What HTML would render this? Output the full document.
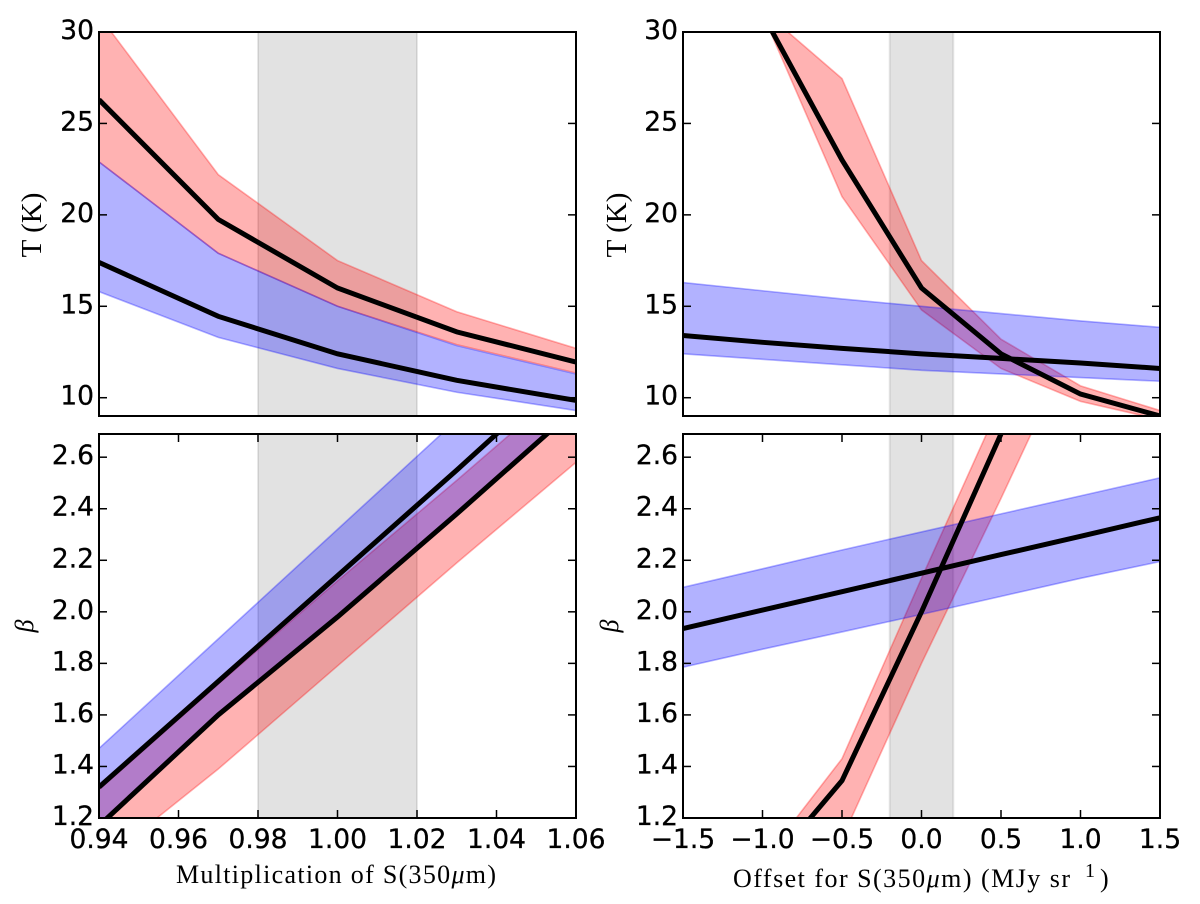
<!DOCTYPE html>
<html lang="en">
<head>
<meta charset="utf-8">
<title>Dust temperature and beta sensitivity to S(350 micron)</title>
<style>
html,body{margin:0;padding:0;background:#fff;}
svg{display:block;}
.tick-label{font-family:"DejaVu Sans",sans-serif;font-size:26.5px;fill:#000;stroke:#000;stroke-width:0.3px;}
.axis-label{font-family:"Liberation Serif",serif;font-size:26px;fill:#000;}
</style>
</head>
<body>
<svg id="fig" xmlns="http://www.w3.org/2000/svg" width="1200" height="904" viewBox="0 0 1200 904">
  <rect x="0" y="0" width="1200" height="904" fill="#fff"/>
  <text class="axis-label" style="font-size:29px" transform="translate(41,225) rotate(-90)" text-anchor="middle">T (K)</text>
  <text class="axis-label" style="font-size:29px" transform="translate(626,225) rotate(-90)" text-anchor="middle">T (K)</text>
  <text class="axis-label" transform="translate(33,626) rotate(-90)" text-anchor="middle" font-style="italic">β</text>
  <text class="axis-label" transform="translate(618,626) rotate(-90)" text-anchor="middle" font-style="italic">β</text>
  <text class="axis-label" x="176" y="883" textLength="320">Multiplication of S(350<tspan font-style="italic">μ</tspan>m)</text>
  <text class="axis-label" x="733" y="887" textLength="337">Offset for S(350<tspan font-style="italic">μ</tspan>m) (MJy sr</text>
  <text class="axis-label" x="1085" y="877" style="font-size:20px">1</text>
  <text class="axis-label" x="1100" y="887">)</text>
</svg>
<script>
// Shared x sample points
const multX = [0.94, 0.97, 1.00, 1.03, 1.06];
const offX = [-1.5, -1.0, -0.5, 0.0, 0.5, 1.0, 1.5];

// Axis tick labels
const multTicks = ["0.94", "0.96", "0.98", "1.00", "1.02", "1.04", "1.06"];
const offTicks = ["-1.5", "-1.0", "-0.5", "0.0", "0.5", "1.0", "1.5"];
const tempTicks = ["10", "15", "20", "25", "30"];
const betaTicks = ["1.2", "1.4", "1.6", "1.8", "2.0", "2.2", "2.4", "2.6"];

// Axis limits
const multLim = [0.94, 1.06];
const offLim = [-1.5, 1.5];
const tempLim = [9, 30];
const betaLim = [1.2, 2.69];

// Calibration spans
const multSpan = [0.98, 1.02];
const offSpan = [-0.2, 0.2];

// Panel: T vs multiplication
const tmRedUpper = [30.9, 22.2, 17.5, 14.7, 12.7];
const tmRedCenter = [26.3, 19.75, 16.0, 13.6, 11.95];
const tmRedLower = [22.9, 17.9, 15.0, 12.9, 11.35];
const tmBlueUpper = [22.9, 17.9, 15.0, 12.85, 11.3];
const tmBlueCenter = [17.4, 14.45, 12.4, 10.95, 9.85];
const tmBlueLower = [15.8, 13.3, 11.6, 10.3, 9.3];

// Panel: T vs offset
const toRedUpper = [31.2, 31.2, 27.45, 17.5, 13.2, 10.65, 9.3];
const toRedCenter = [31.0, 31.0, 23.0, 16.0, 12.4, 10.2, 9.0];
const toRedLower = [31.0, 31.0, 21.0, 14.8, 11.6, 9.8, 8.8];
const toBlueUpper = [16.3, 15.85, 15.4, 15.0, 14.6, 14.2, 13.85];
const toBlueCenter = [13.4, 13.03, 12.7, 12.4, 12.15, 11.9, 11.6];
const toBlueLower = [12.4, 12.1, 11.8, 11.5, 11.3, 11.1, 10.9];

// Panel: beta vs multiplication
const bmRedUpper = [1.31, 1.72, 2.12, 2.51, 2.91];
const bmRedCenter = [1.17, 1.60, 1.98, 2.38, 2.79];
const bmRedLower = [1.02, 1.39, 1.79, 2.19, 2.58];
const bmBlueUpper = [1.47, 1.895, 2.32, 2.745, 3.17];
const bmBlueCenter = [1.32, 1.73, 2.14, 2.55, 2.97];
const bmBlueLower = [1.17, 1.60, 1.98, 2.38, 2.79];

// Panel: beta vs offset
const boRedUpper = [1.03, 1.03, 1.43, 2.13, 2.815, 3.5, 4.1];
const boRedCenter = [0.98, 0.98, 1.345, 2.0, 2.69, 3.4, 4.0];
const boRedLower = [0.8, 0.8, 1.12, 1.80, 2.44, 3.1, 3.7];
const boBlueUpper = [2.095, 2.167, 2.24, 2.31, 2.38, 2.45, 2.52];
const boBlueCenter = [1.935, 2.007, 2.078, 2.15, 2.222, 2.293, 2.365];
const boBlueLower = [1.785, 1.855, 1.922, 1.99, 2.06, 2.13, 2.195];

const svg = document.getElementById('fig');
const NS = 'http://www.w3.org/2000/svg';

function make(tag, parent, attrs) {
  const el = document.createElementNS(NS, tag);
  for (const k in attrs) el.setAttribute(k, attrs[k]);
  parent.appendChild(el);
  return el;
}

function linearScale(lim, a, b) {
  return v => a + (v - lim[0]) / (lim[1] - lim[0]) * (b - a);
}

function drawPanel(p) {
  const sx = linearScale(p.xLim, p.left, p.right);
  const sy = linearScale(p.yLim, p.bottom, p.top);

  const group = make('g', svg, {});
  
  

  const clipId = p.name + '-clip';
  const defs = make('defs', group, {});
  const clip = make('clipPath', defs, { id: clipId });
  make('rect', clip, { x: p.left, y: p.top, width: p.right - p.left, height: p.bottom - p.top });
  const plot = make('g', group, { 'clip-path': 'url(#' + clipId + ')' });

  // Grey calibration span
  const span = make('rect', plot, {
    x: sx(p.span[0]), y: p.top, width: sx(p.span[1]) - sx(p.span[0]), height: p.bottom - p.top,
    fill: '#000', 'fill-opacity': 0.115, stroke: '#000', 'stroke-opacity': 0.09, 'stroke-width': 2
  });
  
  

  // Uncertainty bands, red beneath blue
  p.series.forEach(s => {
    const pts = [];
    p.xs.forEach((x, i) => pts.push(sx(x).toFixed(2) + ',' + sy(s.upper[i]).toFixed(2)));
    for (let i = p.xs.length - 1; i >= 0; i--) pts.push(sx(p.xs[i]).toFixed(2) + ',' + sy(s.lower[i]).toFixed(2));
    const band = make('polygon', plot, {
      points: pts.join(' '), fill: s.color, 'fill-opacity': 0.3,
      stroke: s.color, 'stroke-opacity': 0.3, 'stroke-width': 1.6, 'stroke-linejoin': 'miter'
    });
    
    
  });

  // Central lines
  p.series.forEach(s => {
    const pts = p.xs.map((x, i) => sx(x).toFixed(2) + ',' + sy(s.center[i]).toFixed(2));
    const line = make('polyline', plot, {
      points: pts.join(' '), fill: 'none', stroke: '#000', 'stroke-width': 5, 'stroke-linejoin': 'miter'
    });
    
    
  });

  // Y ticks and labels
  p.yTicks.forEach(t => {
    const v = parseFloat(t), y = sy(v);
    const left = make('line', group, { x1: p.left, x2: p.left + 8, y1: y, y2: y, stroke: '#000', 'stroke-width': 1.5 });
    
    
    const right = make('line', group, { x1: p.right - 8, x2: p.right, y1: y, y2: y, stroke: '#000', 'stroke-width': 1.5 });
    
    
    const label = make('text', group, { class: 'tick-label', x: p.left - 5, y: y + 7, 'text-anchor': 'end' });
    label.textContent = t;
    
    
  });

  // X ticks and labels (bottom row only)
  p.xTicks.forEach(t => {
    const v = parseFloat(t), x = sx(v);
    if (!p.showX) return;
    const top = make('line', group, { x1: x, x2: x, y1: p.top, y2: p.top + 8, stroke: '#000', 'stroke-width': 1.5 });
    
    
    const bottom = make('line', group, { x1: x, x2: x, y1: p.bottom - 8, y2: p.bottom, stroke: '#000', 'stroke-width': 1.5 });
    
    
    const label = make('text', group, { class: 'tick-label', x: x, y: p.bottom + 30, 'text-anchor': 'middle' });
    label.textContent = t.replace('-', '\u2212');
    
    
  });

  // Frame
  const frame = make('rect', group, {
    x: p.left, y: p.top, width: p.right - p.left, height: p.bottom - p.top,
    fill: 'none', stroke: '#000', 'stroke-width': 2
  });
  
  
}

const RED = '#ff0000', BLUE = '#0000ff';

drawPanel({
  name: 'panel-temperature-multiplication', left: 99, right: 576, top: 32, bottom: 416,
  xLim: multLim, yLim: tempLim, xs: multX, span: multSpan, xTicks: multTicks, yTicks: tempTicks, showX: false,
  series: [
    { label: 'red', color: RED, upper: tmRedUpper, center: tmRedCenter, lower: tmRedLower },
    { label: 'blue', color: BLUE, upper: tmBlueUpper, center: tmBlueCenter, lower: tmBlueLower }
  ]
});
drawPanel({
  name: 'panel-temperature-offset', left: 683, right: 1160, top: 32, bottom: 416,
  xLim: offLim, yLim: tempLim, xs: offX, span: offSpan, xTicks: offTicks, yTicks: tempTicks, showX: false,
  series: [
    { label: 'red', color: RED, upper: toRedUpper, center: toRedCenter, lower: toRedLower },
    { label: 'blue', color: BLUE, upper: toBlueUpper, center: toBlueCenter, lower: toBlueLower }
  ]
});
drawPanel({
  name: 'panel-beta-multiplication', left: 99, right: 576, top: 434, bottom: 818,
  xLim: multLim, yLim: betaLim, xs: multX, span: multSpan, xTicks: multTicks, yTicks: betaTicks, showX: true,
  series: [
    { label: 'red', color: RED, upper: bmRedUpper, center: bmRedCenter, lower: bmRedLower },
    { label: 'blue', color: BLUE, upper: bmBlueUpper, center: bmBlueCenter, lower: bmBlueLower }
  ]
});
drawPanel({
  name: 'panel-beta-offset', left: 683, right: 1160, top: 434, bottom: 818,
  xLim: offLim, yLim: betaLim, xs: offX, span: offSpan, xTicks: offTicks, yTicks: betaTicks, showX: true,
  series: [
    { label: 'red', color: RED, upper: boRedUpper, center: boRedCenter, lower: boRedLower },
    { label: 'blue', color: BLUE, upper: boBlueUpper, center: boBlueCenter, lower: boBlueLower }
  ]
});
</script>
</body>
</html>
